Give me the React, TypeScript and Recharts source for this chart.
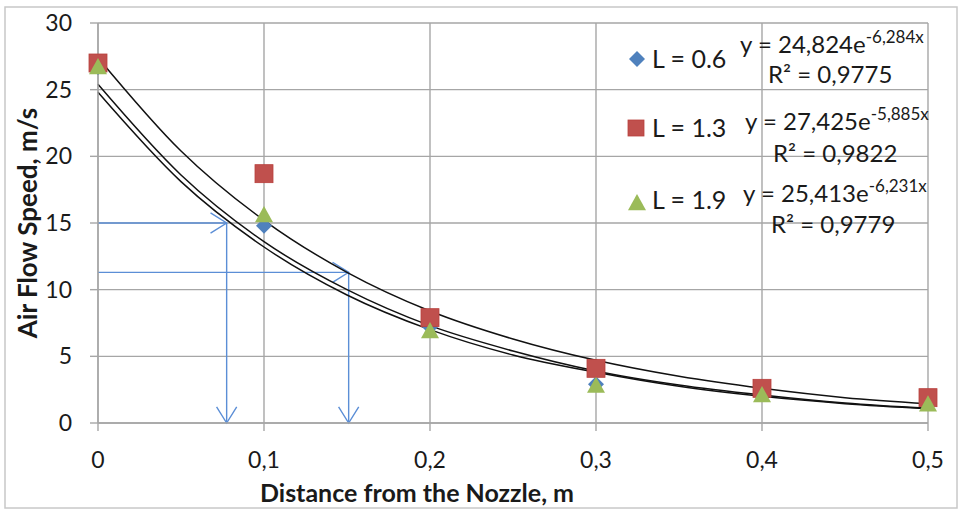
import React from "react";
import {
	ComposedChart,
	Scatter,
	Line,
	XAxis,
	YAxis,
	CartesianGrid,
	ReferenceLine,
} from "recharts";

// measured points (distance from nozzle, m)
const distances = [0, 0.1, 0.2, 0.3, 0.4, 0.5];
const speedL06 = [26.7, 14.8, 7.2, 2.9, 2.2, 1.5];
const speedL13 = [27.0, 18.7, 7.9, 4.1, 2.6, 1.9];
const speedL19 = [26.7, 15.6, 6.9, 2.8, 2.1, 1.4];

// trendline curves
const trendX = [0, 0.05, 0.1, 0.15, 0.2, 0.25, 0.3, 0.35, 0.4, 0.45, 0.5];
const trendL06 = [24.8, 18.1, 13.2, 9.6, 7.0, 5.1, 3.8, 2.75, 2.0, 1.45, 1.07];
const trendL13 = [27.4, 20.4, 15.2, 11.3, 8.4, 6.3, 4.7, 3.5, 2.6, 1.9, 1.45];
const trendL19 = [25.4, 18.6, 13.6, 10.0, 7.3, 5.4, 3.9, 2.85, 2.1, 1.5, 1.1];

const xTicks = [0, 0.1, 0.2, 0.3, 0.4, 0.5];
const yTicks = [0, 5, 10, 15, 20, 25, 30];

const seriesNames = ["L = 0.6", "L = 1.3", "L = 1.9"];
const eqCoef = ["y = 24,824e", "y = 27,425e", "y = 25,413e"];
const eqExp = ["-6,284x", "-5,885x", "-6,231x"];
const rSquared = ["R² = 0,9775", "R² = 0,9822", "R² = 0,9779"];

// reading guides: [x, y] where the arrow turns down
const guides = [
	[0.0775, 15],
	[0.151, 11.3],
];

const BLUE = "#4F81BD";
const RED = "#C0504D";
const GREEN = "#9BBB59";
const GRID = "#A6A6A6";
const ARROW = "#5B8ED6";
const FONT = "Lato, 'Open Sans', sans-serif";

const toPoints = (xs: number[], ys: number[]) => xs.map((x, i) => ({ x, y: ys[i] }));

const diamond = (cx: number, cy: number, r: number, fill: string) => (
	<path d={`M${cx},${cy - r}L${cx + r},${cy}L${cx},${cy + r}L${cx - r},${cy}Z`} fill={fill} />
);
const square = (cx: number, cy: number, h: number, fill: string) => (
	<rect x={cx - h} y={cy - h} width={h * 2} height={h * 2} fill={fill} stroke="#B8403D" strokeWidth={0.8} />
);
const triangle = (cx: number, cy: number, h: number, fill: string) => (
	<path d={`M${cx},${cy - h}L${cx + h},${cy + h * 0.8}L${cx - h},${cy + h * 0.8}Z`} fill={fill} />
);

const Arrow = (props: any) => {
	const { x1, y1, x2, y2 } = props;
	const a = Math.atan2(y2 - y1, x2 - x1);
	const len = 19;
	const th = (32 * Math.PI) / 180;
	const p1 = [x2 - len * Math.cos(a - th), y2 - len * Math.sin(a - th)];
	const p2 = [x2 - len * Math.cos(a + th), y2 - len * Math.sin(a + th)];
	return (
		<g stroke={ARROW} strokeWidth={1.4} fill="none">
			<line x1={x1} y1={y1} x2={x2} y2={y2} />
			<polyline points={`${p1[0]},${p1[1]} ${x2},${y2} ${p2[0]},${p2[1]}`} />
		</g>
	);
};

const fmtX = (v: number) => (v === 0 ? "0" : v.toFixed(1).replace(".", ","));

export default function App() {
	const legendRows = [
		{ marker: diamond(637, 59, 8, BLUE), label: 68, eqX: 740, eqY: 53, rX: 768, rY: 83 },
		{ marker: square(636, 128, 8, RED), label: 137, eqX: 745, eqY: 130, rX: 773, rY: 162 },
		{ marker: triangle(637, 203, 9, GREEN), label: 209, eqX: 743, eqY: 202, rX: 771, rY: 233 },
	];

	return (
		<div style={{ position: "absolute", left: 0, top: 0, width: 959, height: 513, background: "#fff" }}>
			<ComposedChart
				width={959}
				height={513}
				margin={{ top: 23, right: 31, bottom: 40, left: 28 }}
			>
				<CartesianGrid stroke={GRID} strokeWidth={1.4} />
				<XAxis
					type="number"
					dataKey="x"
					domain={[0, 0.5]}
					ticks={xTicks}
					tickFormatter={fmtX}
					height={50}
					tickSize={8}
					tickMargin={21}
					stroke={GRID}
					strokeWidth={1.4}
					tick={{ fill: "#1a1a1a", fontSize: 23, fontFamily: FONT }}
				/>
				<YAxis
					type="number"
					domain={[0, 30]}
					ticks={yTicks}
					width={70}
					tickSize={8}
					tickMargin={18}
					stroke={GRID}
					strokeWidth={1.4}
					tick={{ fill: "#1a1a1a", fontSize: 23, fontFamily: FONT }}
				/>
				{guides.map(([gx, gy], i) => (
					<ReferenceLine
						key={"h" + i}
						segment={[{ x: 0, y: gy }, { x: gx, y: gy }]}
						shape={Arrow}
					/>
				))}
				{guides.map(([gx, gy], i) => (
					<ReferenceLine
						key={"v" + i}
						segment={[{ x: gx, y: gy }, { x: gx, y: 0 }]}
						shape={Arrow}
					/>
				))}
				<Scatter
					name={seriesNames[0]}
					data={toPoints(distances, speedL06)}
					dataKey="y"
					isAnimationActive={false}
					shape={(p: any) => diamond(p.cx, p.cy, 8, BLUE)}
				/>
				<Scatter
					name={seriesNames[1]}
					data={toPoints(distances, speedL13)}
					dataKey="y"
					isAnimationActive={false}
					shape={(p: any) => square(p.cx, p.cy, 9, RED)}
				/>
				<Scatter
					name={seriesNames[2]}
					data={toPoints(distances, speedL19)}
					dataKey="y"
					isAnimationActive={false}
					shape={(p: any) => triangle(p.cx, p.cy, 9, GREEN)}
				/>
				{[trendL06, trendL13, trendL19].map((t, i) => (
					<Line
						key={"t" + i}
						data={toPoints(trendX, t)}
						dataKey="y"
						type="monotone"
						stroke="#111"
						strokeWidth={1.5}
						dot={false}
						activeDot={false}
						isAnimationActive={false}
					/>
				))}
			</ComposedChart>
			<svg
				width={959}
				height={513}
				style={{ position: "absolute", left: 0, top: 0, pointerEvents: "none" }}
				fontFamily={FONT}
			>
				<rect x={5} y={7} width={952} height={501} fill="none" stroke="#C8C8C8" strokeWidth={1.5} />
				{legendRows.map((r, i) => (
					<g key={i} fill="#1a1a1a">
						{r.marker}
						<text x={652} y={r.label} fontSize={25}>
							{seriesNames[i]}
						</text>
						<text x={r.eqX} y={r.eqY} fontSize={24}>
							{eqCoef[i]}
							<tspan fontSize={17} dy={-10}>
								{eqExp[i]}
							</tspan>
						</text>
						<text x={r.rX} y={r.rY} fontSize={24}>
							{rSquared[i]}
						</text>
					</g>
				))}
				<text
					x={417}
					y={502}
					textAnchor="middle"
					fontSize={25}
					fontWeight="bold"
					fill="#1a1a1a"
				>
					Distance from the Nozzle, m
				</text>
				<text
					transform="translate(37,223) rotate(-90)"
					textAnchor="middle"
					fontSize={26}
					fontWeight="bold"
					fill="#1a1a1a"
				>
					Air Flow Speed, m/s
				</text>
			</svg>
		</div>
	);
}
